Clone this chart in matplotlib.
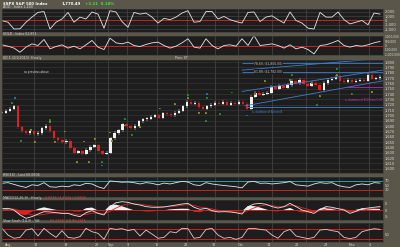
import matplotlib
matplotlib.use('Agg')
import matplotlib.pyplot as plt
import numpy as np

# ---------------- data ----------------
price_close = [1705, 1709, 1713, 1717, 1678, 1670, 1667, 1670, 1665, 1667, 1676, 1680,
               1670, 1657, 1654, 1650, 1652, 1639, 1630, 1633, 1628, 1635, 1641, 1644,
               1633, 1628, 1630, 1657, 1667, 1672, 1683, 1680, 1676, 1681, 1689, 1693,
               1694, 1698, 1700, 1696, 1704, 1702, 1700, 1705, 1709, 1717, 1726, 1722,
               1724, 1715, 1713, 1717, 1720, 1724, 1722, 1726, 1720, 1724, 1722, 1726,
               1722, 1713, 1735, 1743, 1739, 1741, 1743, 1754, 1750, 1756, 1752, 1757,
               1765, 1761, 1767, 1759, 1756, 1761, 1757, 1748, 1761, 1767, 1769, 1772,
               1765, 1763, 1767, 1763, 1765, 1767, 1765, 1776, 1769, 1770, 1772]

add_values = [-50, -400, -2000, -1950, -400, 800, 1900, 2100, -2000, -400, 350, 1900,
              -400, 800, 350, 2000, 1500, -1800, 2300, 2000, -250, -1600, 1900, 1500,
              1750, 800, -600, 500, 200, 800, 1750, 2300, -400, -250, 2100, 2100,
              350, 950, 200, -250, -600, 1900, 2000, -250, 800, 1100, 200, -600,
              2000, 0, -600, -1800, -2000, 1900, 800, 800, 2000, 200, -800, -400,
              0, -1000, 1750, 1500]

vold_values = [80e3, -80e3, -300e3, -780e3, -190e3, 190e3, 0, 700e3, -390e3, -120e3, 80e3, -300e3,
               -80e3, -390e3, 80e3, 580e3, -190e3, -470e3, 850e3, 310e3, 190e3, 390e3, 0, -120e3,
               120e3, 310e3, 390e3, 0, -300e3, -80e3, 310e3, 780e3, -190e3, -300e3, 780e3, 0,
               -390e3, 0, 80e3, -80e3, 780e3, 0, 1160e3, 0, 80e3, 190e3, 0, -300e3,
               80e3, -390e3, -190e3, -470e3, -970e3, 0, 80e3, 310e3, 580e3, 0, -190e3, 0,
               -80e3, 80e3, 310e3, 470e3]

rsi_values = [59, 62, 54, 46, 40, 52, 49, 62, 43, 41, 46, 43,
              52, 49, 59, 56, 43, 35, 70, 67, 64, 65, 62, 56,
              62, 59, 52, 60, 56, 62, 68, 65, 52, 49, 62, 56,
              52, 49, 46, 43, 38, 65, 68, 59, 60, 56, 59, 62,
              67, 52, 49, 46, 56, 62, 59, 62, 49, 43, 40, 52,
              56, 52, 62, 60]

macd_line = [1.0, 1.3, 0.0, -3.8, -6.4, -5.1, -3.1, -1.3, -1.5, -2.1, -2.6, -2.6,
             -4.1, -5.1, -2.1, -0.5, -2.6, -3.8, 2.6, 5.6, 6.4, 5.9, 4.6, 3.8,
             2.6, 2.1, 2.1, 2.3, 3.1, 3.8, 4.6, 5.1, 2.1, 0.5, 1.3, -0.5,
             -1.5, -1.3, -1.5, -2.1, -3.1, 2.6, 4.6, 5.1, 4.4, 2.6, 1.5, 2.6,
             5.1, 2.6, 0.0, -1.3, -2.6, 0.5, 2.6, 2.1, 1.0, 0.0, -2.6, -1.0,
             1.0, 1.5, 2.1, 2.6]

macd_signal = [0.8, 1.0, 0.8, -0.5, -2.5, -3.8, -4.0, -3.4, -2.6, -2.2, -2.2, -2.4,
               -3.0, -3.8, -3.5, -2.4, -2.2, -2.8, -1.0, 1.5, 3.5, 4.6, 4.8, 4.4,
               3.8, 3.2, 2.7, 2.5, 2.6, 3.0, 3.6, 4.2, 3.5, 2.2, 1.6, 0.8,
               -0.2, -0.8, -1.1, -1.5, -2.2, -0.5, 1.6, 3.2, 3.9, 3.5, 2.6, 2.4,
               3.5, 3.2, 1.8, 0.5, -0.8, -0.6, 0.8, 1.4, 1.2, 0.6, -1.0, -1.2,
               -0.2, 0.6, 1.2, 1.8]

stoch_k = [82, 44, 26, 31, 72, 80, 39, 82, 54, 31, 69, 31,
           26, 35, 82, 63, 54, 20, 82, 76, 80, 69, 76, 39,
           72, 50, 26, 31, 63, 57, 82, 80, 26, 31, 76, 82,
           44, 26, 31, 20, 31, 80, 82, 76, 72, 44, 26, 63,
           76, 39, 31, 24, 31, 72, 76, 69, 63, 31, 24, 31,
           63, 72, 80, 76]

x_tick_pos = [3, 32, 62, 93, 106, 125, 153, 182, 210, 236, 265, 293, 322, 347, 367]
x_tick_lab = ['Aug', '12', '19', '26', 'Sep', '9', '16', '23', '30', 'Oct', '14', '21', '28', 'Nov', '4']
grid_x = [32, 62, 93, 106, 125, 155, 185, 213, 236, 270, 304, 337, 367]

price_ticks = list(range(1600, 1801, 10))

ann_x = [13, 10, 48, 48, 29, 19, 33, 63, 53, 82, 93, 108, 110, 123, 123, 130, 138, 158, 173, 186, 186, 197,
         205, 205, 230, 204, 204, 218, 253, 263, 290, 288, 310, 318, 315, 335, 335, 350, 370, 245, 75, 87, 100, 100]
ann_y = [1732, 1724, 1692, 1687, 1672, 1652, 1650, 1670, 1650, 1651, 1655, 1668, 1652, 1694, 1681, 1663, 1679,
         1713, 1722, 1739, 1733, 1704, 1741, 1732, 1743, 1705, 1690, 1703, 1741, 1765, 1776, 1767, 1761, 1737,
         1720, 1787, 1776, 1741, 1744, 1700, 1613, 1613, 1613, 1606]
ann_c = ['#2f6fb8', '#2a8a2a', '#2a8a2a', '#8a8a20', '#8a8a20', '#2a8a2a', '#8a8a20', '#8a8a20', '#8a8a20',
         '#8a8a20', '#8a8a20', '#8a8a20', '#8a8a20', '#2a8a2a', '#8a8a20', '#2a8a2a', '#8a8a20', '#8a8a20',
         '#8a8a20', '#2a8a2a', '#8a8a20', '#8a8a20', '#2f6fb8', '#2a8a2a', '#2a8a2a', '#8a8a20', '#2a8a2a',
         '#2a8a2a', '#8a8a20', '#8a8a20', '#2a8a2a', '#8a8a20', '#8a8a20', '#8a8a20', '#2a8a2a', '#2a8a2a',
         '#8a8a20', '#2a8a2a', '#8a8a20', '#2f6fb8', '#8a8a20', '#8a8a20', '#2a8a2a', '#2f6fb8']

# ---------------- style ----------------
BG = '#5a5649'
PANEL = '#1d1d1d'
GRID = '#4a4a4a'
TXT = '#d8d8d8'
W, H = 400, 247
XMAX = 381

fig = plt.figure(figsize=(4, 2.47), dpi=100, facecolor=BG)


def ax_px(top, bottom, left=2, right=383, lab=2.6):
    a = fig.add_axes([left / W, 1 - bottom / H, (right - left) / W, (bottom - top) / H])
    a.set_facecolor(PANEL)
    for s in a.spines.values():
        s.set_color('#3a3a3a')
        s.set_linewidth(0.4)
    a.set_xlim(0, XMAX)
    a.set_xticks([])
    a.yaxis.tick_right()
    a.tick_params(axis='y', length=0, labelsize=lab, labelcolor=TXT, pad=1)
    for gx in grid_x:
        a.axvline(gx, color=GRID, lw=0.5, zorder=0)
    return a


def xs(n):
    return np.linspace(0, 378, n)

# title
fig.text(3 / W, 1 - 4 / H, '$SPX S&P 500 Index', color='white', fontsize=2.8, va='center', weight='bold')
fig.text(62 / W, 1 - 4 / H, '1,770.49', color='white', fontsize=2.8, va='center', weight='bold')
fig.text(85 / W, 1 - 4 / H, '+3.21  0.18%', color='#40e040', fontsize=2.8, va='center', weight='bold')

# panel A : ADD
a1 = ax_px(9, 32)
a1.set_ylim(-2700, 2700)
a1.set_yticks([2000, 1000, 0, -1000, -2000])
a1.set_yticklabels(['2,000', '1,000', '0', '-1,000', '-2,000'])
for v in [2000, 1000, -1000, -2000]:
    a1.axhline(v, color=GRID, lw=0.4, zorder=0)
a1.axhline(0, color='#d02020', lw=0.7)
a1.plot(xs(len(add_values)), add_values, color='#e6e6e6', lw=0.6)
fig.text(3 / W, 1 - 7 / H, 'ADD - Index 1,440', color=TXT, fontsize=2.3, va='center')

# panel B : VOLD
a2 = ax_px(36, 55, lab=2.1)
a2.set_ylim(-1100e3, 1100e3)
a2.set_yticks([1e6, 5e5, 0, -5e5, -1e6])
a2.set_yticklabels(['1,000,000', '500,000', '0', '-500,000', '-1,000,000'])
a2.axhline(0, color='#d02020', lw=0.7)
a2.plot(xs(len(vold_values)), vold_values, color='#e6e6e6', lw=0.6)
fig.text(3 / W, 1 - 34 / H, 'VOLD - Index 61,851', color=TXT, fontsize=2.3, va='center')

# panel C : price
a3 = ax_px(60, 173)
a3.set_ylim(1592, 1804)
a3.set_yticks(price_ticks)
a3.set_yticklabels([f'{v:,}' for v in price_ticks])
for v in price_ticks:
    a3.axhline(v, color='#3c3c3c', lw=0.4, zorder=0)
px = xs(len(price_close))
opens = [price_close[0]] + price_close[:-1]
for i, c in enumerate(price_close):
    o = opens[i]
    col = '#f0f0f0' if c >= o else '#e02020'
    lo, hi = min(o, c), max(o, c)
    a3.vlines(px[i], lo - 3, hi + 3, color=col, lw=0.35)
    a3.bar(px[i], max(hi - lo, 1.5), bottom=lo, width=2.4, color=col, lw=0)

# channel / fib lines
a3.plot([240, 381], [1785, 1807], color='#3a7fd0', lw=0.6)
a3.plot([243, 381], [1718, 1765], color='#3a7fd0', lw=0.6)
a3.plot([240, 381], [1745, 1785], color='#3a7fd0', lw=0.6)
a3.hlines([1798, 1782], 240, 381, color='#3a7fd0', lw=0.6)
a3.hlines([1715], 245, 381, color='#3a7fd0', lw=0.6)
a3.hlines([1753], 345, 381, color='#b030b0', lw=0.6)
a3.text(252, 1798, '78.6% ($1,800.00)', color='#c8c8c8', fontsize=2.2, va='center',
        bbox=dict(facecolor=PANEL, edgecolor='none', pad=0.3))
a3.text(252, 1782, '61.8% ($1,782.00)', color='#c8c8c8', fontsize=2.2, va='center',
        bbox=dict(facecolor=PANEL, edgecolor='none', pad=0.3))
a3.text(343, 1729, 'a: duration of B-D from C+D', color='#d040c0', fontsize=1.9, va='center')
a3.text(250, 1707, 'a: duration of A from B', color='#4090e0', fontsize=1.9, va='center')
a3.text(22, 1782, 'as previous above', color='#e0e0e0', fontsize=2.0, va='center')
fig.text(3 / W, 1 - 58 / H, '$D 1 (2/1/2013)  Hourly', color=TXT, fontsize=2.3, va='center')
fig.text(175 / W, 1 - 58 / H, 'Prev. ST', color=TXT, fontsize=2.3, va='center')

for x_, y_, c_ in zip(ann_x, ann_y, ann_c):
    a3.text(x_, y_, 'ii', color='#101010', fontsize=1.6, ha='center', va='center',
            bbox=dict(facecolor=c_, edgecolor='none', pad=0.3))

# panel D : RSI
a4 = ax_px(177, 197)
a4.set_ylim(-4, 88)
a4.set_yticks([70, 50, 30])
a4.set_yticklabels(['70', '50', '30'])
a4.axhline(70, color='#30b0c0', lw=0.6)
a4.axhline(30, color='#d02020', lw=0.7)
a4.plot(xs(len(rsi_values)), rsi_values, color='#e6e6e6', lw=0.6)
fig.text(3 / W, 1 - 175 / H, 'RSI(14) - Last 60.0806', color=TXT, fontsize=2.3, va='center')

# panel E : MACD
a5 = ax_px(200, 220)
a5.set_ylim(-7.7, 7.7)
a5.set_yticks([5, 0, -5])
a5.set_yticklabels(['5', '0', '-5'])
mx = xs(len(macd_line))
hist = np.array(macd_line) - np.array(macd_signal)
a5.fill_between(mx, 0, hist, where=hist >= 0, color='#f0f0f0', lw=0, interpolate=True)
a5.fill_between(mx, 0, hist, where=hist < 0, color='#e02020', lw=0, interpolate=True)
a5.axhline(0, color='#d02020', lw=0.7)
a5.plot(mx, macd_signal, color='#e02020', lw=0.6)
a5.plot(mx, macd_line, color='#e6e6e6', lw=0.6)
fig.text(3 / W, 1 - 198 / H, 'MACD(12,26,9) - Hourly', color=TXT, fontsize=2.3, va='center')
fig.text(45 / W, 1 - 198 / H, '2.6034 / 1.5231 / 1.0803', color='#e04040', fontsize=2.3, va='center')

# panel F : stochastics
a6 = ax_px(223, 242)
a6.set_ylim(5, 112)
a6.set_yticks([50])
a6.set_yticklabels(['50'])
a6.axhline(80, color='#d02020', lw=0.7)
a6.axhline(20, color='#d02020', lw=0.7)
a6.plot(xs(len(stoch_k)), stoch_k, color='#e8c8c8', lw=0.6)
fig.text(3 / W, 1 - 221 / H, 'Slow Stoch (14,3) - %K', color=TXT, fontsize=2.3, va='center')
fig.text(50 / W, 1 - 221 / H, '82.1709, %D 80.2215', color='#e04040', fontsize=2.3, va='center')

for xp, lab in zip(x_tick_pos, x_tick_lab):
    fig.text((2 + xp) / W, 1 - 244.5 / H, lab, color=TXT, fontsize=2.4, va='center', ha='left')

fig.savefig('out.png', dpi=100, facecolor=BG)
